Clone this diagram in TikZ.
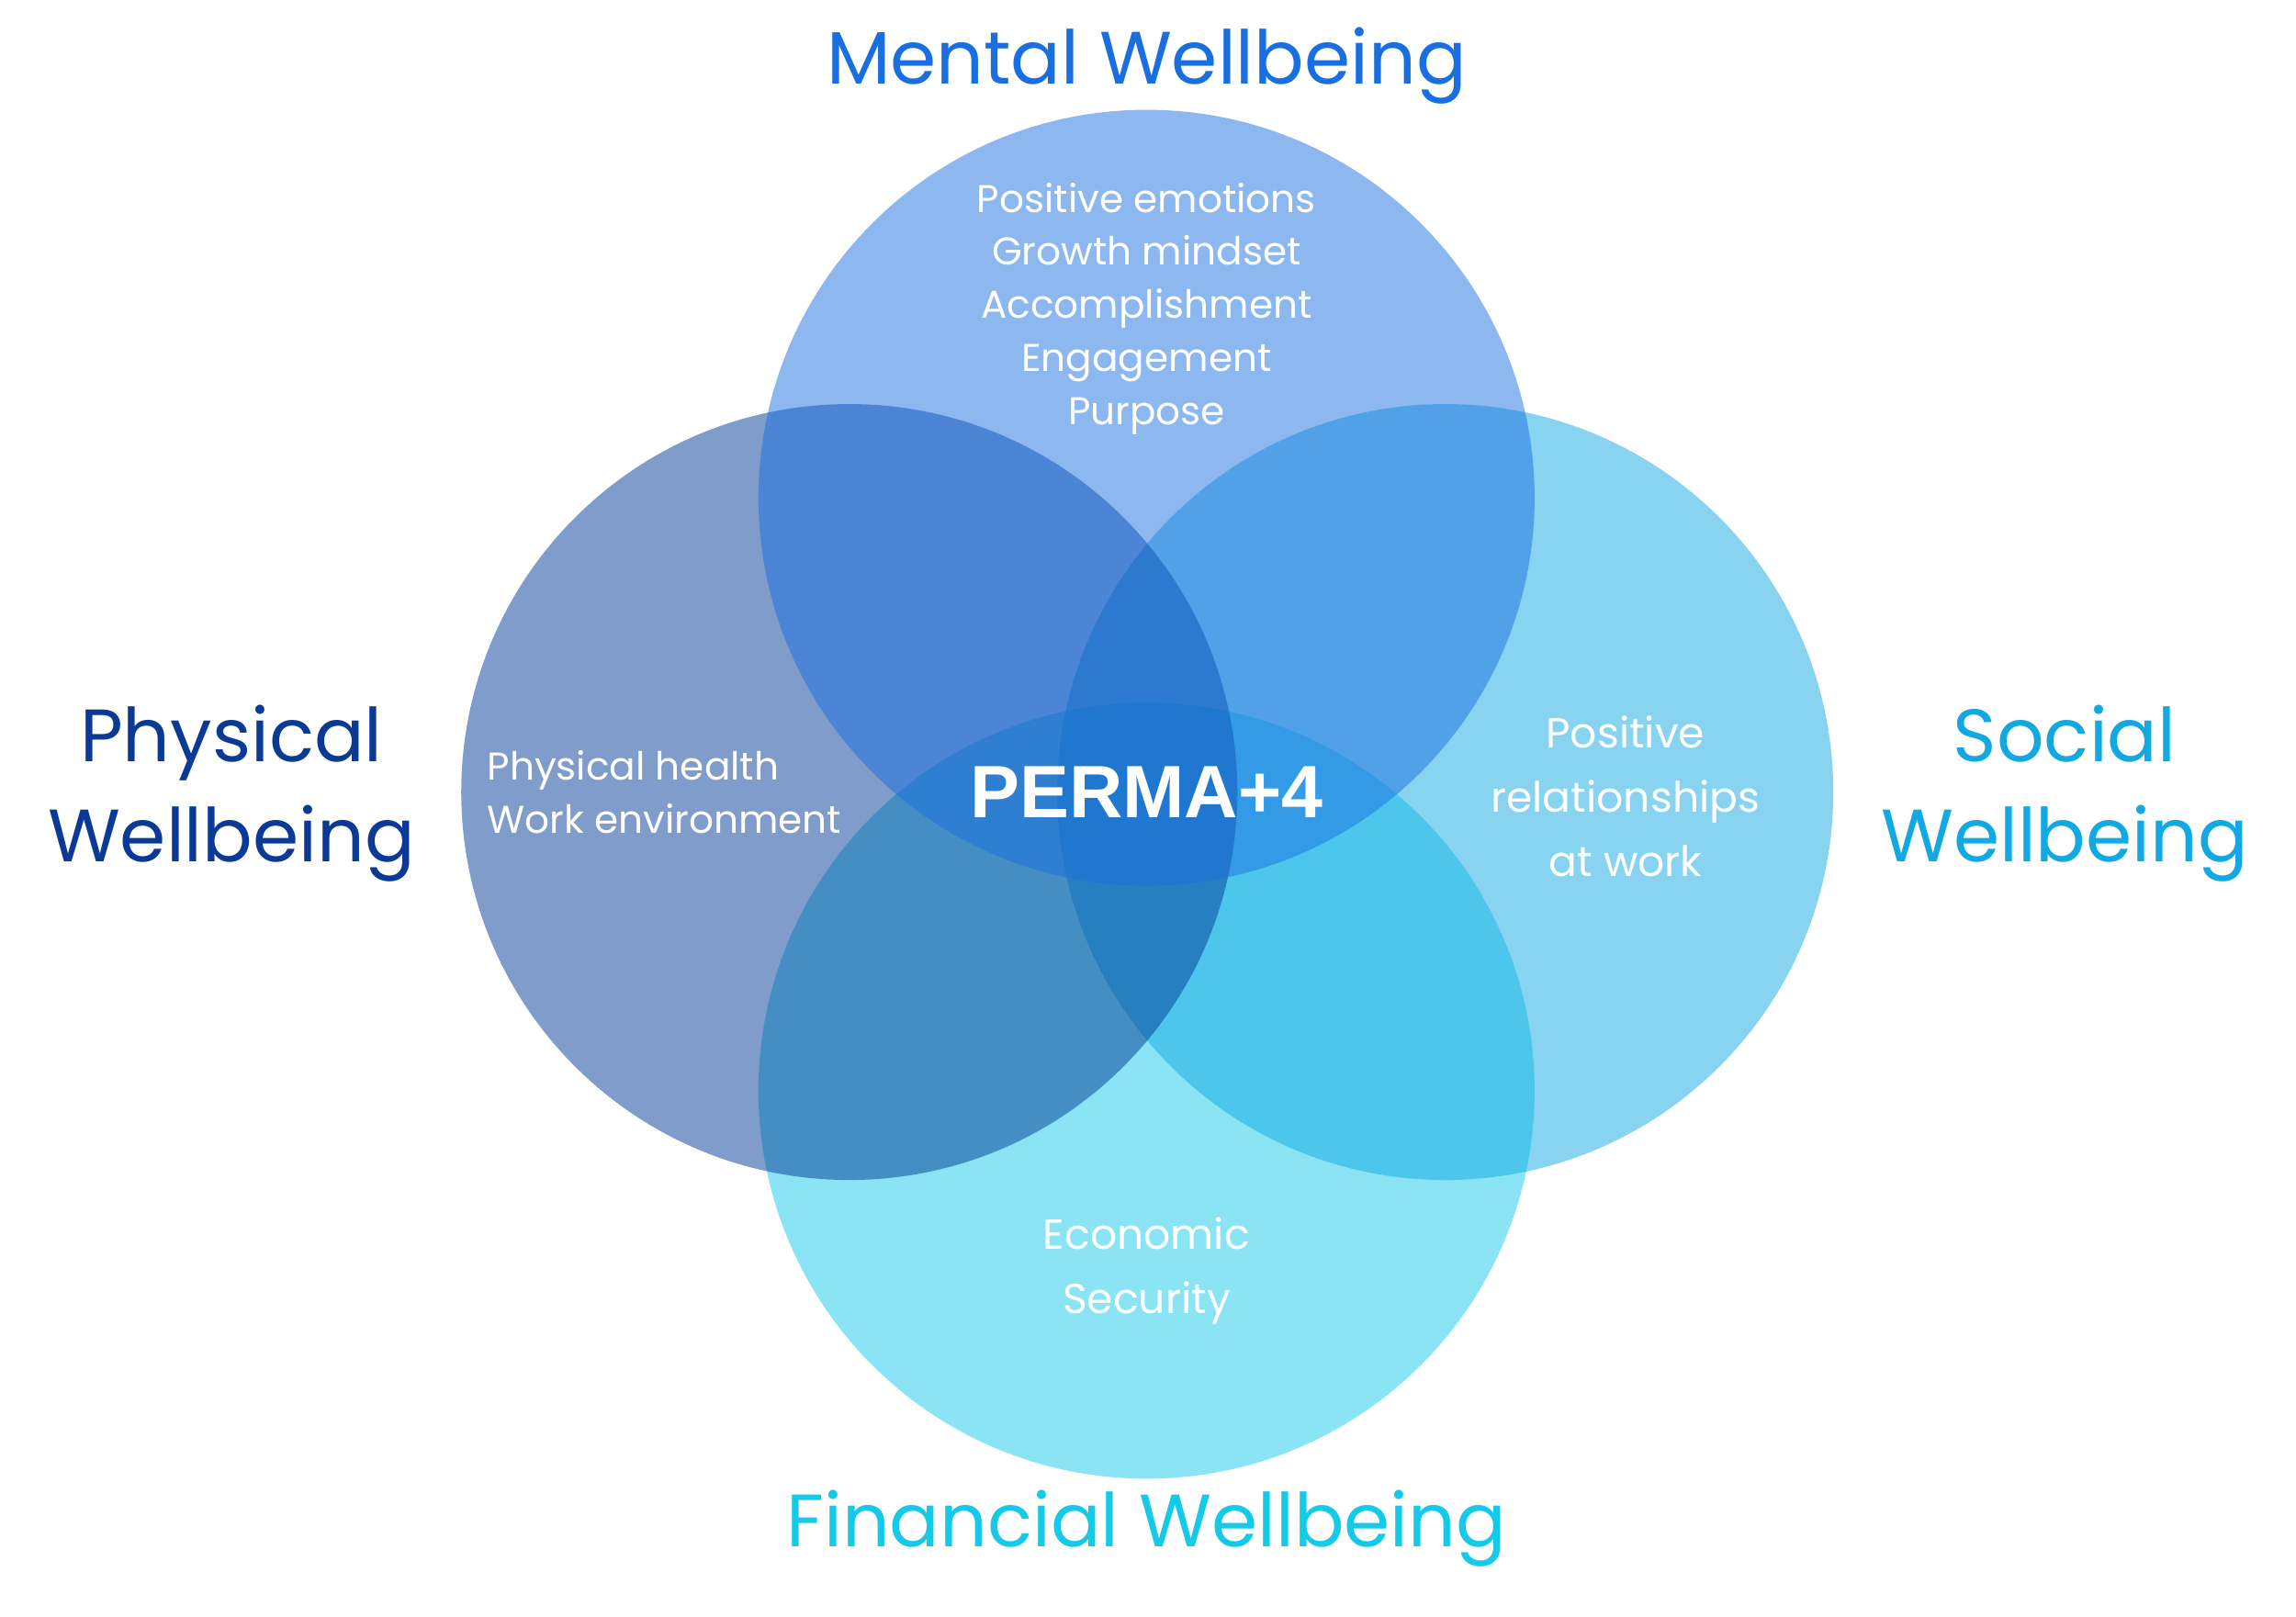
\documentclass[tikz,border=0pt]{standalone}
\usepackage{fontspec}
\setmainfont{Poppins}
\newfontfamily\boldsans{Liberation Sans}
\definecolor{mentalc}{HTML}{1A6FE0}
\definecolor{physc}{HTML}{003A95}
\definecolor{socialc}{HTML}{12A8E2}
\definecolor{finc}{HTML}{15C9E8}
\definecolor{titlemental}{HTML}{1A6FE0}
\definecolor{titlephys}{HTML}{0A3A96}
\definecolor{titlesocial}{HTML}{12A8E2}
\definecolor{titlefin}{HTML}{15C9E8}
\begin{document}
\begin{tikzpicture}[x=0.01594cm,y=-0.01594cm,
 every node/.style={align=center},
 ring/.style={fill opacity=0.5, draw=none},
 title/.style={font=\fontsize{23}{28}\selectfont},
 inner/.style={text=white, font=\fontsize{12}{16.5}\selectfont}]
 \useasboundingbox (0,0) rectangle (1568,1104);
 \fill[ring, finc] (783,745) circle (265);
 \fill[ring, socialc] (987,541) circle (265);
 \fill[ring, physc] (580,541) circle (265);
 \fill[ring, mentalc] (783,340) circle (265);
 \node (mental) [title, text=titlemental] at (783,45) {Mental Wellbeing};
 \node (phys) [title, text=titlephys, font=\fontsize{23}{31}\selectfont] at (158,542) {Physical\\Wellbeing};
 \node (social) [title, text=titlesocial, font=\fontsize{23}{31}\selectfont] at (1410,542) {Social\\Wellbeing};
 \node (fin) [title, text=titlefin] at (783,1044) {Financial Wellbeing};
 \node (mentalitems) [inner] at (783,211) {Positive emotions\\Growth mindset\\Accomplishment\\Engagement\\Purpose};
 \node (physitems) [inner, align=left, anchor=west] at (325,541) {Physical health\\Work environment};
 \node (socialitems) [inner, font=\fontsize{13}{20}\selectfont] at (1110,544) {Positive\\relationships\\at work};
 \node (finitems) [inner, font=\fontsize{13}{20}\selectfont] at (783,868) {Economic\\Security};
 \node (core) [text=white, font=\boldsans\bfseries\fontsize{23}{28}\selectfont] at (783,541) {PERMA+4};
\end{tikzpicture}
\end{document}
